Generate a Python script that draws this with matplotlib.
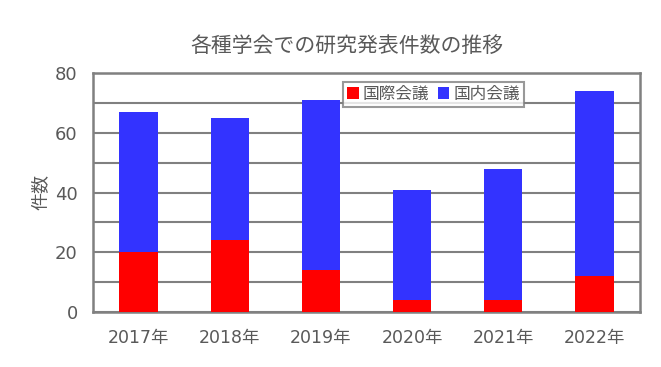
import matplotlib
matplotlib.use("Agg")
import matplotlib.pyplot as plt
from matplotlib.ticker import MultipleLocator

plt.rcParams['font.family'] = ['Noto Sans CJK JP', 'DejaVu Sans']

years = ['2017年', '2018年', '2019年', '2020年', '2021年', '2022年']
international = [20, 24, 14, 4, 4, 12]
domestic = [47, 41, 57, 37, 44, 62]

title = '各種学会での研究発表件数の推移'
ylabel = '件数'
labels = ['国際会議', '国内会議']

txt = '#595959'
gridc = '#808080'
numfont = ['DejaVu Sans', 'Noto Sans CJK JP']

fig = plt.figure(figsize=(6.61, 3.67), dpi=100)
ax = fig.add_axes([93/661, 1-312/367, (640-93)/661, (312-73)/367])

x = list(range(len(years)))
w = 0.42
ax.bar(x, international, w, color='#FF0000', label=labels[0], zorder=3)
ax.bar(x, domestic, w, bottom=international, color='#3333FF', label=labels[1], zorder=3)

ax.set_xlim(-0.5, 5.5)
ax.set_ylim(0, 80)
ax.yaxis.set_major_locator(MultipleLocator(20))
ax.yaxis.set_minor_locator(MultipleLocator(10))
ax.grid(which='both', axis='y', color=gridc, linewidth=1.5, zorder=1)
ax.set_xticks(x)
ax.set_xticklabels(years, family=numfont, fontsize=12.5)
ax.tick_params(axis='both', which='both', length=0, colors=txt)
ax.tick_params(axis='y', pad=11, labelsize=13)
ax.tick_params(axis='x', pad=12)
for lab in ax.get_yticklabels():
    lab.set_family(numfont)
for s in ax.spines.values():
    s.set_color(gridc)
    s.set_linewidth(1.8)

ax.set_ylabel(ylabel, color=txt, fontsize=13, labelpad=3)
fig.text(347/661, 1-46/367, title, ha='center', va='center', color=txt, fontsize=15)

leg = ax.legend(loc='upper left', bbox_to_anchor=((343-93)/547, 1-(81.7-73)/239),
                ncol=2, frameon=True, fancybox=False, fontsize=12,
                handlelength=0.7, handleheight=0.7, handletextpad=0.25,
                columnspacing=0.5, borderpad=0.25, borderaxespad=0)
leg.get_frame().set_edgecolor(gridc)
leg.get_frame().set_linewidth(1.5)
for t in leg.get_texts():
    t.set_color(txt)

fig.savefig('out.png', dpi=100)
